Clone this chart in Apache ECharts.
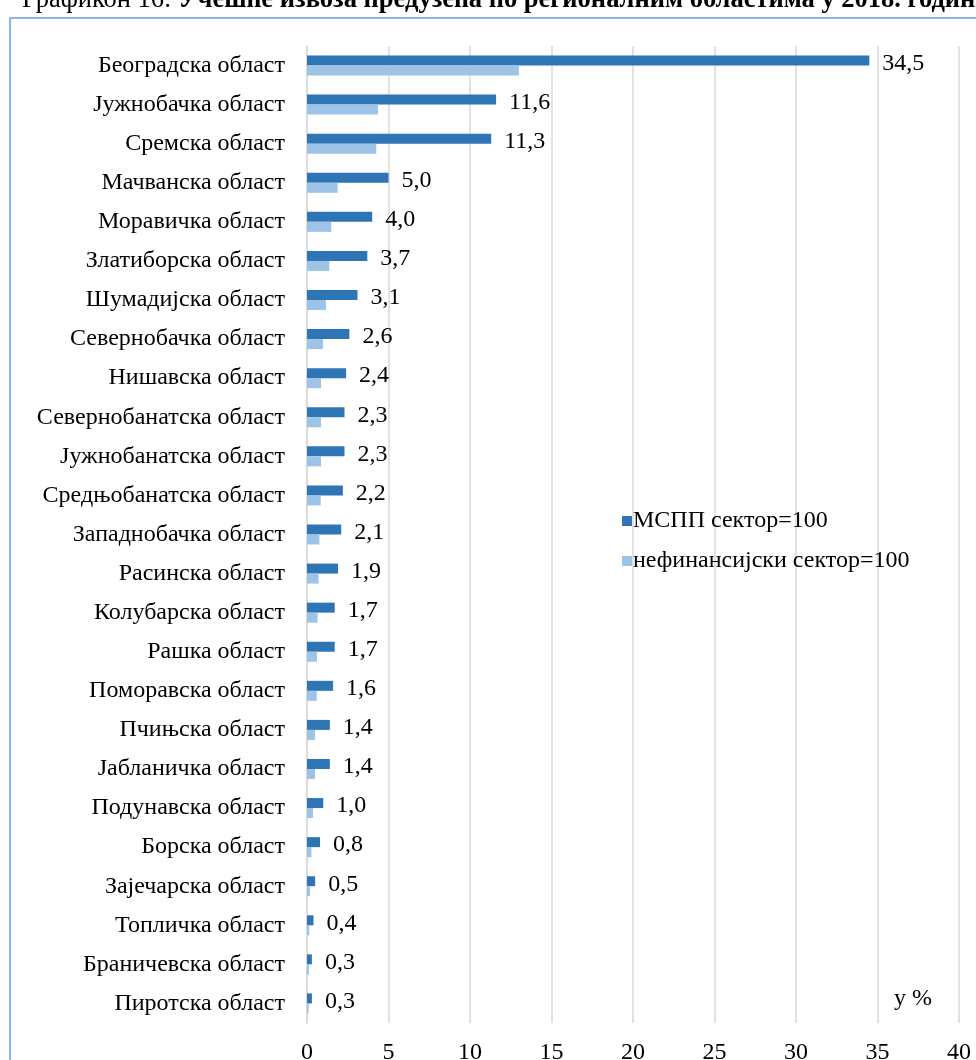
<!DOCTYPE html>
<html>
<head>
<meta charset="utf-8">
<script src="https://cdn.jsdelivr.net/npm/echarts@6/dist/echarts.min.js"></script>
<style>
html,body{margin:0;padding:0;background:#fff;}
#chart{width:976px;height:1060px;}
</style>
</head>
<body>
<div id="chart"></div>
<script>
const titlePrefix = 'Графикон 16: ';
const titleMain = 'Учешће извоза предузећа по регионалним областима у 2018. години';
const categories = ['Београдска област','Јужнобачка област','Сремска област','Мачванска област','Моравичка област','Златиборска област','Шумадијска област','Севернобачка област','Нишавска област','Севернобанатска област','Јужнобанатска област','Средњобанатска област','Западнобачка област','Расинска област','Колубарска област','Рашка област','Поморавска област','Пчињска област','Јабланичка област','Подунавска област','Борска област','Зајечарска област','Топличка област','Браничевска област','Пиротска област'];
const seriesNames = ['МСПП сектор=100','нефинансијски сектор=100'];
const msppValues = [34.5,11.6,11.3,5.0,4.0,3.7,3.1,2.6,2.4,2.3,2.3,2.2,2.1,1.9,1.7,1.7,1.6,1.4,1.4,1.0,0.8,0.5,0.4,0.3,0.3];
const nonFinValues = [13.0,4.35,4.25,1.88,1.49,1.37,1.16,0.98,0.86,0.86,0.86,0.84,0.76,0.71,0.65,0.61,0.60,0.49,0.49,0.37,0.27,0.18,0.14,0.12,0.10];
const xTicks = [0,5,10,15,20,25,30,35,40];
const unitLabel = 'у %';

const FONT = '"Liberation Serif", "Times New Roman", serif';
const chart = echarts.init(document.getElementById('chart'), null, {renderer:'canvas'});
chart.setOption({
  backgroundColor:'#ffffff',
  animation:false,
  textStyle:{fontFamily:FONT},
  grid:{left:307, right:17, top:46, bottom:37, containLabel:false, outerBoundsMode:'none'},
  legend:{
    orient:'vertical', left:617, top:504,
    itemWidth:10, itemHeight:10, itemGap:16,
    icon:'rect',
    textStyle:{fontFamily:FONT, fontSize:24, color:'#000', lineHeight:24, padding:[0,0,0,-4]},
    data:seriesNames
  },
  xAxis:{
    type:'value', min:xTicks[0], max:xTicks[xTicks.length-1], interval:5,
    axisLine:{show:false}, axisTick:{show:false},
    splitLine:{show:true, lineStyle:{color:'#D9D9D9', width:1.5}},
    axisLabel:{fontFamily:FONT, fontSize:24, color:'#000', margin:18}
  },
  yAxis:{
    type:'category', data:categories, inverse:true,
    axisLine:{show:true, lineStyle:{color:'#D9D9D9', width:1.5}},
    axisTick:{show:false},
    axisLabel:{fontFamily:FONT, fontSize:24, color:'#000', margin:22, padding:[3,0,0,0]}
  },
  series:[
    {
      name:seriesNames[0], type:'bar', data:msppValues,
      barWidth:10, barGap:'0%',
      itemStyle:{color:'#2E75B6'},
      label:{show:true, position:'right', distance:13, fontFamily:FONT, fontSize:24, color:'#000',
        offset:[0,3],
        formatter:p=>p.value.toFixed(1).replace('.',',')}
    },
    {
      name:seriesNames[1], type:'bar', data:nonFinValues,
      barWidth:10, barGap:'0%',
      itemStyle:{color:'#9DC3E6'}
    }
  ],
  graphic:[
    {type:'rect', shape:{x:10, y:18, width:1000, height:1100}, style:{fill:'none', stroke:'#8EB4E3', lineWidth:2}, silent:true},
    {type:'text', left:22, top:-13, style:{
      text:'{a|'+titlePrefix+'}{b|'+titleMain+'}',
      rich:{a:{fontFamily:FONT, fontSize:26.5, fontWeight:'normal', fill:'#000'}, b:{fontFamily:FONT, fontSize:26.5, fontWeight:'bold', fill:'#000'}}
    }},
    {type:'text', left:894, top:987, style:{text:unitLabel, fontFamily:FONT, fontSize:24, fill:'#000'}}
  ]
});
</script>
</body>
</html>
